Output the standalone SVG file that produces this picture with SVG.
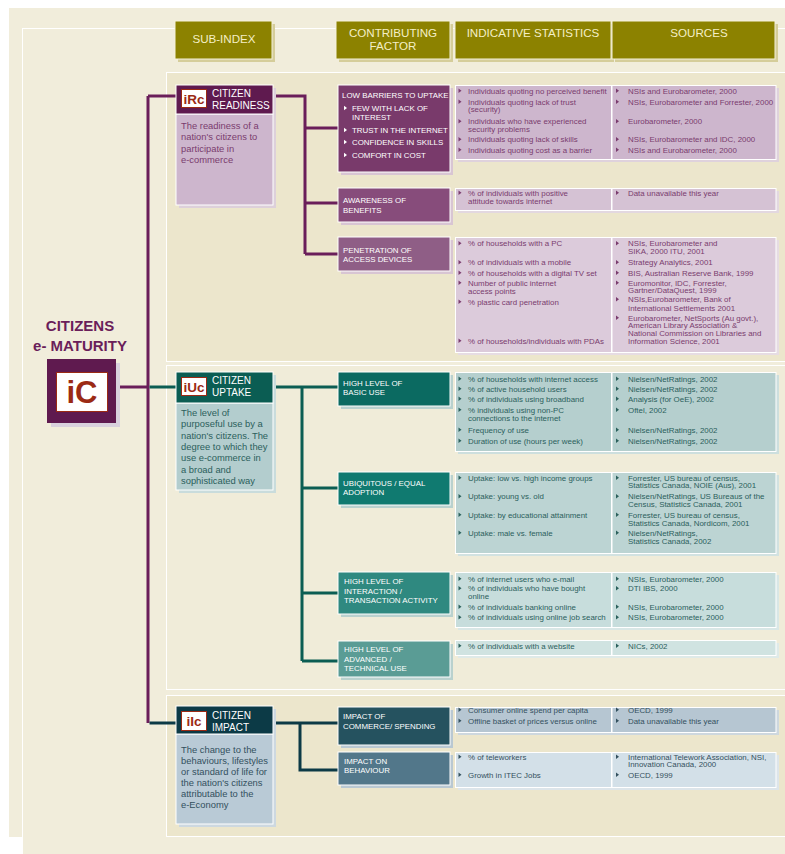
<svg xmlns="http://www.w3.org/2000/svg" width="785" height="854" viewBox="0 0 785 854">
<defs>
<style>
text{font-family:'Liberation Sans',Arial,Helvetica,sans-serif}
.ht{font-size:11.6px;fill:#f4efc6;text-anchor:middle}
.hdr{fill:#8c8200;stroke:#f5f2dc;stroke-width:1}
.hsh{fill:#d5cd9a}
.fl{font-size:7.9px;fill:#fff}
.st{font-size:7.9px}
.bt{font-size:9.4px}
.nt{font-size:10px;fill:#fff}
.ic{font-weight:bold;fill:#9b2a14;text-anchor:middle}
.pc{fill:#7a3c6e}
.tc{fill:#2b605c}
.nc{fill:#33505e}
.wf{fill:#fff}
.wb{stroke:#fff;stroke-width:1}
.icon{fill:#fff;stroke:#9b2a14;stroke-width:1}
.cp{stroke:#6a1e5a}
.ct{stroke:#0b5d53}
.cn{stroke:#0c3a46}
#connectors path{fill:none;stroke-width:3}
.reg{stroke:#fff;stroke-width:1}
</style>
<path id="b" d="M0,-2.2L3,0L0,2.2Z"/>
</defs>

<rect width="785" height="854" fill="#fff"/>
<rect x="9" y="8" width="776" height="829" fill="#f1eddb"/>
<rect x="22.5" y="28.5" width="770" height="830" fill="#f1eddb" stroke="#fff"/>

<rect class="reg" x="166.5" y="72.5" width="625" height="289" fill="#ece6cc"/>
<rect class="reg" x="166.5" y="365.5" width="625" height="324" fill="#f0ecd9"/>
<rect class="reg" x="166.5" y="695.5" width="625" height="141" fill="#ece6cc"/>

<g id="hdr-subindex">
<rect class="hsh" x="178" y="24" width="97" height="38"/>
<rect class="hdr" x="175" y="21" width="97" height="38"/>
<text class="ht" x="224" y="43">SUB-INDEX</text>
</g>
<g id="hdr-factor">
<rect class="hsh" x="339" y="24" width="114" height="38"/>
<rect class="hdr" x="336" y="21" width="114" height="38"/>
<text class="ht" x="393" y="37">CONTRIBUTING</text>
<text class="ht" x="393" y="50">FACTOR</text>
</g>
<g id="hdr-stats">
<rect class="hsh" x="458" y="24" width="156" height="38"/>
<rect class="hdr" x="455" y="21" width="156" height="38"/>
<text class="ht" x="533" y="37">INDICATIVE STATISTICS</text>
</g>
<g id="hdr-sources">
<rect class="hsh" x="615" y="24" width="163" height="38"/>
<rect class="hdr" x="612" y="21" width="163" height="38"/>
<text class="ht" x="699" y="37">SOURCES</text>
</g>

<g id="connectors">
<path class="cp" d="M148,96V723"/>
<path class="cp" d="M148,96H176"/>
<path class="cp" d="M116,387H148"/>
<path class="cp" d="M273,96H305V254M305,128H338M305,203H338M305,254H338"/>
<path class="ct" d="M149.5,387H176"/>
<path class="ct" d="M273,387H338M302,387V661M302,488H338M302,593H338M302,661H338"/>
<path class="cn" d="M149.5,723H176"/>
<path class="cn" d="M273,723H338M300,723V770H338"/>
</g>

<g id="node-ic">
<text x="80" y="331" font-size="15" font-weight="bold" fill="#6a1e5a" text-anchor="middle">CITIZENS</text>
<text x="80" y="351" font-size="15" font-weight="bold" fill="#6a1e5a" text-anchor="middle">e- MATURITY</text>
<rect x="51" y="363" width="69" height="64" fill="#d9d1dd"/>
<rect x="47" y="359" width="69" height="64" fill="#5f1a4f"/>
<rect class="icon" x="56.5" y="372.5" width="51" height="39"/>
<text class="ic" x="82" y="403" font-size="31">iC</text>
</g>

<g id="node-irc">
<rect x="179" y="88" width="97" height="120" fill="#ddd0da"/>
<rect class="wb" x="176" y="114" width="97" height="91" fill="#cdb6cd"/>
<rect class="wb" x="176" y="85" width="97" height="29" fill="#5f1a4f"/>
<rect class="icon" x="181.5" y="89.5" width="25" height="18"/>
<text class="ic" x="194" y="103.5" font-size="13.5">iRc</text>
<text class="nt" x="212" y="97">CITIZEN</text>
<text class="nt" x="212" y="109">READINESS</text>
<text class="bt pc" x="181" y="129">The readiness of a</text>
<text class="bt pc" x="181" y="140.3">nation's citizens to</text>
<text class="bt pc" x="181" y="151.6">participate in</text>
<text class="bt pc" x="181" y="162.9">e-commerce</text>
</g>

<g id="node-iuc">
<rect x="179" y="375" width="97" height="118" fill="#c9dcdc"/>
<rect class="wb" x="176" y="403" width="97" height="87" fill="#b3cdce"/>
<rect class="wb" x="176" y="372" width="97" height="31" fill="#0b5d53"/>
<rect class="icon" x="181.5" y="377.5" width="25" height="18"/>
<text class="ic" x="194" y="391.5" font-size="13.5">iUc</text>
<text class="nt" x="212" y="384">CITIZEN</text>
<text class="nt" x="212" y="396">UPTAKE</text>
<text class="bt tc" x="181" y="416">The level of</text>
<text class="bt tc" x="181" y="427.3">purposeful use by a</text>
<text class="bt tc" x="181" y="438.6">nation's citizens. The</text>
<text class="bt tc" x="181" y="449.9">degree to which they</text>
<text class="bt tc" x="181" y="461.2">use e-commerce in</text>
<text class="bt tc" x="181" y="472.5">a broad and</text>
<text class="bt tc" x="181" y="483.8">sophisticated way</text>
</g>

<g id="node-iic">
<rect x="179" y="709" width="97" height="118" fill="#cdd8e0"/>
<rect class="wb" x="176" y="734" width="97" height="90" fill="#b9cad6"/>
<rect class="wb" x="176" y="706" width="97" height="28" fill="#0c3a46"/>
<rect class="icon" x="181.5" y="711.5" width="25" height="19"/>
<text class="ic" x="194" y="726" font-size="13.5">iIc</text>
<text class="nt" x="212" y="719">CITIZEN</text>
<text class="nt" x="212" y="731">IMPACT</text>
<text class="bt nc" x="181" y="752.5">The change to the</text>
<text class="bt nc" x="181" y="763.6">behaviours, lifestyles</text>
<text class="bt nc" x="181" y="774.7">or standard of life for</text>
<text class="bt nc" x="181" y="785.8">the nation's citizens</text>
<text class="bt nc" x="181" y="796.9">attributable to the</text>
<text class="bt nc" x="181" y="808">e-Economy</text>
</g>

<g id="f-low-barriers">
<rect x="341" y="88" width="112" height="87" fill="#d8c5d3"/>
<rect class="wb" x="338" y="85" width="112" height="87" fill="#793a6b"/>
<text class="fl" x="342" y="98">LOW BARRIERS TO UPTAKE</text>
<use href="#b" class="wf" x="344" y="108"/>
<text class="fl" x="352" y="111">FEW WITH LACK OF</text>
<text class="fl" x="352" y="120">INTEREST</text>
<use href="#b" class="wf" x="344" y="130"/>
<text class="fl" x="352" y="133">TRUST IN THE INTERNET</text>
<use href="#b" class="wf" x="344" y="142"/>
<text class="fl" x="352" y="145">CONFIDENCE IN SKILLS</text>
<use href="#b" class="wf" x="344" y="155"/>
<text class="fl" x="352" y="158">COMFORT IN COST</text>
</g>
<g id="f-awareness">
<rect x="341" y="191" width="112" height="34" fill="#d8c5d3"/>
<rect class="wb" x="338" y="188" width="112" height="34" fill="#874c7b"/>
<text class="fl" x="343" y="203">AWARENESS OF</text>
<text class="fl" x="343" y="213">BENEFITS</text>
</g>
<g id="f-penetration">
<rect x="341" y="240" width="112" height="34" fill="#d8c5d3"/>
<rect class="wb" x="338" y="237" width="112" height="34" fill="#8f5e86"/>
<text class="fl" x="343" y="253">PENETRATION OF</text>
<text class="fl" x="343" y="262">ACCESS DEVICES</text>
</g>
<g id="f-basic-use">
<rect x="341" y="375" width="112" height="34" fill="#b9d1ce"/>
<rect class="wb" x="338" y="372" width="112" height="34" fill="#0b6a61"/>
<text class="fl" x="343" y="386">HIGH LEVEL OF</text>
<text class="fl" x="343" y="395">BASIC USE</text>
</g>
<g id="f-ubiquitous">
<rect x="341" y="475" width="112" height="33" fill="#b9d1ce"/>
<rect class="wb" x="338" y="472" width="112" height="33" fill="#107a70"/>
<text class="fl" x="343" y="486">UBIQUITOUS / EQUAL</text>
<text class="fl" x="343" y="495">ADOPTION</text>
</g>
<g id="f-interaction">
<rect x="341" y="575" width="112" height="42" fill="#b9d1ce"/>
<rect class="wb" x="338" y="572" width="112" height="42" fill="#2f8980"/>
<text class="fl" x="344" y="584">HIGH LEVEL OF</text>
<text class="fl" x="344" y="594">INTERACTION /</text>
<text class="fl" x="344" y="603">TRANSACTION ACTIVITY</text>
</g>
<g id="f-advanced">
<rect x="341" y="644" width="112" height="36" fill="#b9d1ce"/>
<rect class="wb" x="338" y="641" width="112" height="36" fill="#5a9c95"/>
<text class="fl" x="344" y="652">HIGH LEVEL OF</text>
<text class="fl" x="344" y="662">ADVANCED /</text>
<text class="fl" x="344" y="671">TECHNICAL USE</text>
</g>
<g id="f-commerce">
<rect x="341" y="710" width="112" height="38" fill="#b9c8d2"/>
<rect class="wb" x="338" y="707" width="112" height="38" fill="#25525f"/>
<text class="fl" x="343" y="719">IMPACT OF</text>
<text class="fl" x="343" y="729">COMMERCE/ SPENDING</text>
</g>
<g id="f-behaviour">
<rect x="341" y="755" width="112" height="33" fill="#b9c8d2"/>
<rect class="wb" x="338" y="752" width="112" height="33" fill="#52778a"/>
<text class="fl" x="344" y="764">IMPACT ON</text>
<text class="fl" x="344" y="773">BEHAVIOUR</text>
</g>

<g id="s-low-barriers" class="st">
<rect x="458" y="88" width="321" height="74" fill="#dfd2dc"/>
<rect class="wb" x="455.5" y="85.5" width="156" height="74" fill="#cdb6cd"/>
<rect class="wb" x="612" y="85.5" width="164" height="74" fill="#cdb6cd"/>
<g class="pc">
<use href="#b" x="458.5" y="90.7"/><text x="468" y="93.5">Individuals quoting no perceived benefit</text>
<use href="#b" x="458.5" y="101.7"/><text x="468" y="104.5">Individuals quoting lack of trust</text>
<text x="468" y="112">(security)</text>
<use href="#b" x="458.5" y="121.2"/><text x="468" y="124">Individuals who have experienced</text>
<text x="468" y="131.6">security problems</text>
<use href="#b" x="458.5" y="139.2"/><text x="468" y="142">Individuals quoting lack of skills</text>
<use href="#b" x="458.5" y="149.7"/><text x="468" y="152.5">Individuals quoting cost as a barrier</text>
<use href="#b" x="616" y="90.7"/><text x="628" y="93.5">NSIs and Eurobarometer, 2000</text>
<use href="#b" x="616" y="101.7"/><text x="628" y="104.5">NSIs, Eurobarometer and Forrester, 2000</text>
<use href="#b" x="616" y="121.2"/><text x="628" y="124">Eurobarometer, 2000</text>
<use href="#b" x="616" y="139.2"/><text x="628" y="142">NSIs, Eurobarometer and IDC, 2000</text>
<use href="#b" x="616" y="149.7"/><text x="628" y="152.5">NSIs and Eurobarometer, 2000</text>
</g>
</g>

<g id="s-awareness" class="st">
<rect x="458" y="191" width="321" height="22" fill="#e3d8e0"/>
<rect class="wb" x="455.5" y="188.5" width="156" height="22" fill="#d5c2d4"/>
<rect class="wb" x="612" y="188.5" width="164" height="22" fill="#d5c2d4"/>
<g class="pc">
<use href="#b" x="458.5" y="192.7"/><text x="468" y="195.5">% of individuals with positive</text>
<text x="468" y="204">attitude towards internet</text>
<use href="#b" x="616" y="192.7"/><text x="628" y="195.5">Data unavailable this year</text>
</g>
</g>

<g id="s-penetration" class="st">
<rect x="458" y="240" width="321" height="115" fill="#e6dce3"/>
<rect class="wb" x="455.5" y="237.5" width="156" height="115" fill="#dccbdb"/>
<rect class="wb" x="612" y="237.5" width="164" height="115" fill="#dccbdb"/>
<g class="pc">
<use href="#b" x="458.5" y="243.2"/><text x="468" y="246">% of households with a PC</text>
<use href="#b" x="458.5" y="262.2"/><text x="468" y="265">% of individuals with a mobile</text>
<use href="#b" x="458.5" y="272.7"/><text x="468" y="275.5">% of households with a digital TV set</text>
<use href="#b" x="458.5" y="282.7"/><text x="468" y="285.5">Number of public internet</text>
<text x="468" y="293.5">access points</text>
<use href="#b" x="458.5" y="301.7"/><text x="468" y="304.5">% plastic card penetration</text>
<use href="#b" x="458.5" y="340.7"/><text x="468" y="343.5">% of households/individuals with PDAs</text>
<use href="#b" x="616" y="243.2"/><text x="628" y="246">NSIs, Eurobarometer and</text>
<text x="628" y="254">SIKA, 2000 ITU, 2001</text>
<use href="#b" x="616" y="262.2"/><text x="628" y="265">Strategy Analytics, 2001</text>
<use href="#b" x="616" y="272.7"/><text x="628" y="275.5">BIS, Australian Reserve Bank, 1999</text>
<use href="#b" x="616" y="282.7"/><text x="628" y="285.5">Euromonitor, IDC, Forrester,</text>
<text x="628" y="293.3">Gartner/DataQuest, 1999</text>
<use href="#b" x="616" y="299.2"/><text x="628" y="302">NSIs,Eurobarometer, Bank of</text>
<text x="628" y="311">International Settlements 2001</text>
<use href="#b" x="616" y="317.7"/><text x="628" y="320.5">Eurobarometer, NetSports (Au govt.),</text>
<text x="628" y="328.2">American Library Association &amp;</text>
<text x="628" y="336">National Commission on Libraries and</text>
<text x="628" y="343.5">Information Science, 2001</text>
</g>
</g>

<g id="s-basic-use" class="st">
<rect x="458" y="375" width="321" height="79" fill="#cddfde"/>
<rect class="wb" x="455.5" y="372.5" width="156" height="79" fill="#b5cfce"/>
<rect class="wb" x="612" y="372.5" width="164" height="79" fill="#b5cfce"/>
<g class="tc">
<use href="#b" x="458.5" y="378.7"/><text x="468" y="381.5">% of households with internet access</text>
<use href="#b" x="458.5" y="388.7"/><text x="468" y="391.5">% of active household users</text>
<use href="#b" x="458.5" y="398.7"/><text x="468" y="401.5">% of individuals using broadband</text>
<use href="#b" x="458.5" y="409.7"/><text x="468" y="412.5">% individuals using non-PC</text>
<text x="468" y="420.5">connections to the internet</text>
<use href="#b" x="458.5" y="429.7"/><text x="468" y="432.5">Frequency of use</text>
<use href="#b" x="458.5" y="440.7"/><text x="468" y="443.5">Duration of use (hours per week)</text>
<use href="#b" x="616" y="378.7"/><text x="628" y="381.5">Nielsen/NetRatings, 2002</text>
<use href="#b" x="616" y="388.7"/><text x="628" y="391.5">Nielsen/NetRatings, 2002</text>
<use href="#b" x="616" y="398.7"/><text x="628" y="401.5">Analysis (for OeE), 2002</text>
<use href="#b" x="616" y="409.7"/><text x="628" y="412.5">Oftel, 2002</text>
<use href="#b" x="616" y="429.7"/><text x="628" y="432.5">Nielsen/NetRatings, 2002</text>
<use href="#b" x="616" y="440.7"/><text x="628" y="443.5">Nielsen/NetRatings, 2002</text>
</g>
</g>

<g id="s-ubiquitous" class="st">
<rect x="458" y="475" width="321" height="81" fill="#d2e2e1"/>
<rect class="wb" x="455.5" y="472.5" width="156" height="81" fill="#bcd4d3"/>
<rect class="wb" x="612" y="472.5" width="164" height="81" fill="#bcd4d3"/>
<g class="tc">
<use href="#b" x="458.5" y="477.7"/><text x="468" y="480.5">Uptake: low vs. high income groups</text>
<use href="#b" x="458.5" y="496.2"/><text x="468" y="499">Uptake: young vs. old</text>
<use href="#b" x="458.5" y="514.7"/><text x="468" y="517.5">Uptake: by educational attainment</text>
<use href="#b" x="458.5" y="532.7"/><text x="468" y="535.5">Uptake: male vs. female</text>
<use href="#b" x="616" y="477.7"/><text x="628" y="480.5">Forrester, US bureau of census,</text>
<text x="628" y="488">Statistics Canada, NOIE (Aus), 2001</text>
<use href="#b" x="616" y="496.2"/><text x="628" y="499">Nielsen/NetRatings, US Bureaus of the</text>
<text x="628" y="507">Census, Statistics Canada, 2001</text>
<use href="#b" x="616" y="514.7"/><text x="628" y="517.5">Forrester, US bureau of census,</text>
<text x="628" y="526">Statistics Canada, Nordicom, 2001</text>
<use href="#b" x="616" y="532.7"/><text x="628" y="535.5">Nielsen/NetRatings,</text>
<text x="628" y="544">Statistics Canada, 2002</text>
</g>
</g>

<g id="s-interaction" class="st">
<rect x="458" y="575" width="321" height="55" fill="#d9e7e6"/>
<rect class="wb" x="455.5" y="572.5" width="156" height="55" fill="#c7dddc"/>
<rect class="wb" x="612" y="572.5" width="164" height="55" fill="#c7dddc"/>
<g class="tc">
<use href="#b" x="458.5" y="578.7"/><text x="468" y="581.5">% of internet users who e-mail</text>
<use href="#b" x="458.5" y="588.2"/><text x="468" y="591">% of individuals who have bought</text>
<text x="468" y="599">online</text>
<use href="#b" x="458.5" y="606.7"/><text x="468" y="609.5">% of individuals banking online</text>
<use href="#b" x="458.5" y="617.2"/><text x="468" y="620">% of individuals using online job search</text>
<use href="#b" x="616" y="578.7"/><text x="628" y="581.5">NSIs, Eurobarometer, 2000</text>
<use href="#b" x="616" y="588.2"/><text x="628" y="591">DTI IBS, 2000</text>
<use href="#b" x="616" y="606.7"/><text x="628" y="609.5">NSIs, Eurobarometer, 2000</text>
<use href="#b" x="616" y="617.2"/><text x="628" y="620">NSIs, Eurobarometer, 2000</text>
</g>
</g>

<g id="s-advanced" class="st">
<rect x="458" y="643" width="321" height="15" fill="#dfeae8"/>
<rect class="wb" x="455.5" y="640.5" width="156" height="15" fill="#d0e3e1"/>
<rect class="wb" x="612" y="640.5" width="164" height="15" fill="#d0e3e1"/>
<g class="tc">
<use href="#b" x="458.5" y="645.7"/><text x="468" y="648.5">% of individuals with a website</text>
<use href="#b" x="616" y="645.7"/><text x="628" y="648.5">NICs, 2002</text>
</g>
</g>

<g id="s-commerce" class="st">
<rect x="458" y="710" width="321" height="25" fill="#cdd7de"/>
<rect class="wb" x="455.5" y="707.5" width="156" height="25" fill="#b6c6d2"/>
<rect class="wb" x="612" y="707.5" width="164" height="25" fill="#b6c6d2"/>
<g class="nc">
<use href="#b" x="458.5" y="709.7"/><text x="468" y="712.5">Consumer online spend per capita</text>
<use href="#b" x="458.5" y="720.7"/><text x="468" y="723.5">Offline basket of prices versus online</text>
<use href="#b" x="616" y="709.7"/><text x="628" y="712.5">OECD, 1999</text>
<use href="#b" x="616" y="720.7"/><text x="628" y="723.5">Data unavailable this year</text>
</g>
</g>

<g id="s-behaviour" class="st">
<rect x="458" y="755" width="321" height="35" fill="#dde5ea"/>
<rect class="wb" x="455.5" y="752.5" width="156" height="35" fill="#d3e0e8"/>
<rect class="wb" x="612" y="752.5" width="164" height="35" fill="#d3e0e8"/>
<g class="nc">
<use href="#b" x="458.5" y="756.7"/><text x="468" y="759.5">% of teleworkers</text>
<use href="#b" x="458.5" y="774.7"/><text x="468" y="777.5">Growth in ITEC Jobs</text>
<use href="#b" x="616" y="756.7"/><text x="628" y="759.5">International Telework Association, NSI,</text>
<text x="628" y="767">Innovation Canada, 2000</text>
<use href="#b" x="616" y="774.7"/><text x="628" y="777.5">OECD, 1999</text>
</g>
</g>
</svg>
